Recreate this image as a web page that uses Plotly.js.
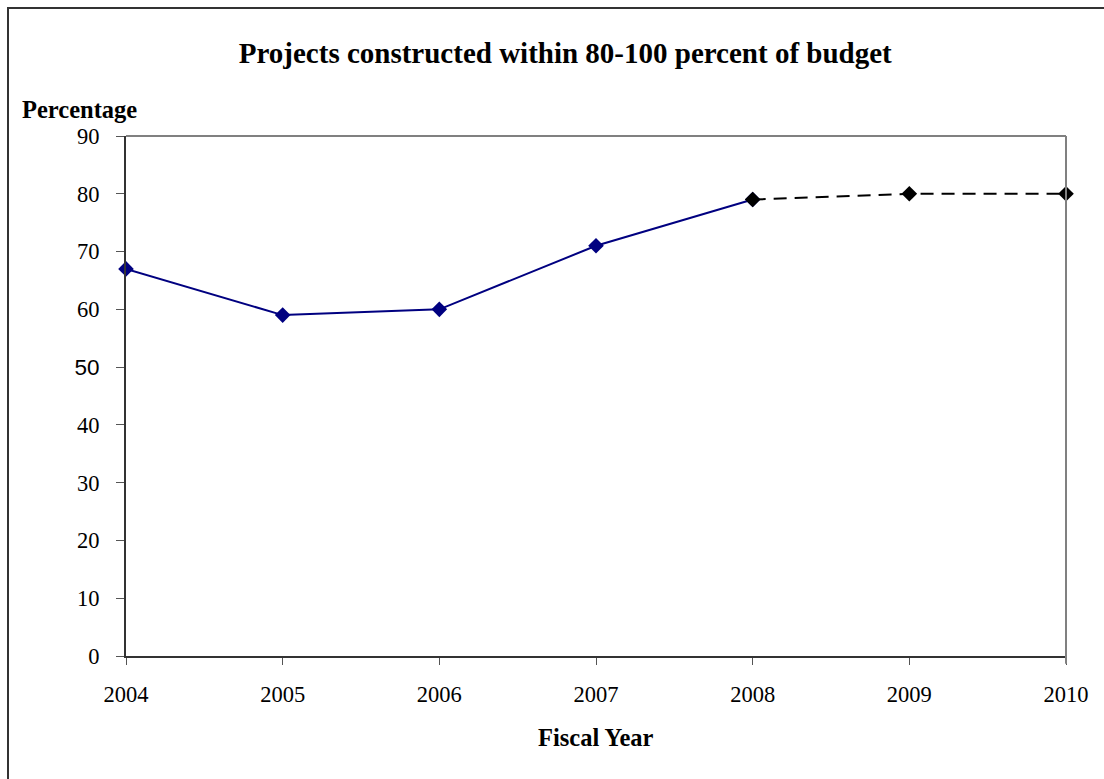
<!DOCTYPE html>
<html><head><meta charset="utf-8">
<script src="https://cdn.plot.ly/plotly-3.0.1.min.js"></script>
<style>
html,body{margin:0;padding:0;overflow:hidden;background:#fff;}
#frame{position:absolute;left:7px;top:7px;width:1200px;height:900px;border-left:2px solid #333;border-top:2px solid #333;pointer-events:none;z-index:5;}
#chart{position:absolute;left:0;top:0;width:1104px;height:779px;}
</style></head>
<body>
<div id="chart"></div><div id="frame"></div>
<script>
const actualYears = [2004, 2005, 2006, 2007, 2008];
const actualValues = [67, 59, 60, 71, 79];
const targetYears = [2008, 2009, 2010];
const targetValues = [79, 80, 80];
const yTickVals = [0, 10, 20, 30, 40, 50, 60, 70, 80, 90];
const yTickText = ['0','10','20','30','40','<span style="font-family:Liberation Sans">50</span>','60','70','80','90'];
const xTickVals = [2004, 2005, 2006, 2007, 2008, 2009, 2010];

const traces = [
  {x: actualYears, y: actualValues, type: 'scatter', mode: 'lines+markers', cliponaxis: false,
   line: {color: '#000080', width: 2}, marker: {symbol: 'diamond', size: 12, color: '#000080'}, hoverinfo:'x+y'},
  {x: targetYears, y: targetValues, type: 'scatter', mode: 'lines+markers', cliponaxis: false,
   line: {color: '#000000', width: 2, dash: '13px,8px'}, marker: {symbol: 'diamond', size: 12, color: '#000000'}, hoverinfo:'x+y'}
];
const font = {family: 'Liberation Serif, Times New Roman, serif', color: '#000'};
const layout = {
  width: 1104, height: 779,
  margin: {l: 126, r: 38, t: 136, b: 123},
  paper_bgcolor: '#fff', plot_bgcolor: '#fff',
  showlegend: false,
  font: font,
  title: {text: '<b>Projects constructed within 80-100 percent of budget</b>', font: {family: font.family, size: 29, color: '#000'}, x: 0.512, xanchor: 'center', y: 0.932, yanchor: 'middle'},
  xaxis: {range: [2004, 2010], tickvals: xTickVals, ticks: 'outside', ticklen: 7, tickcolor: '#555', tickwidth: 1,
    showgrid: false, zeroline: false, showline: true, linecolor: '#333', linewidth: 2,
    tickfont: {family: font.family, size: 22.5, color: '#000'}, ticklabelstandoff: 10},
  yaxis: {range: [0, 90], tickvals: yTickVals, ticktext: yTickText, ticks: 'outside', ticklen: 8, tickcolor: '#555', tickwidth: 1,
    showgrid: false, zeroline: false, showline: true, linecolor: '#333', linewidth: 2,
    tickfont: {family: font.family, size: 22.5, color: '#000'}, ticklabelstandoff: 12},
  shapes: [
    {type: 'line', xref: 'paper', yref: 'paper', x0: 0, x1: 1, y0: 1, y1: 1, line: {color: '#808080', width: 2}},
    {type: 'line', xref: 'paper', yref: 'paper', x0: 1, x1: 1, y0: -0.015, y1: 1, line: {color: '#808080', width: 2}}
  ],
  annotations: [
    {text: '<b>Percentage</b>', xref: 'paper', yref: 'paper', x: -0.1128, y: 1.05, xanchor: 'left', yanchor: 'middle', showarrow: false,
     font: {family: font.family, size: 24.5, color: '#000'}},
    {text: '<b>Fiscal Year</b>', xref: 'paper', yref: 'paper', x: 0.5, y: -0.156, xanchor: 'center', yanchor: 'middle', showarrow: false,
     font: {family: font.family, size: 24.5, color: '#000'}}
  ]
};
Plotly.newPlot('chart', traces, layout, {displayModeBar: false, staticPlot: true});
</script>
</body></html>
